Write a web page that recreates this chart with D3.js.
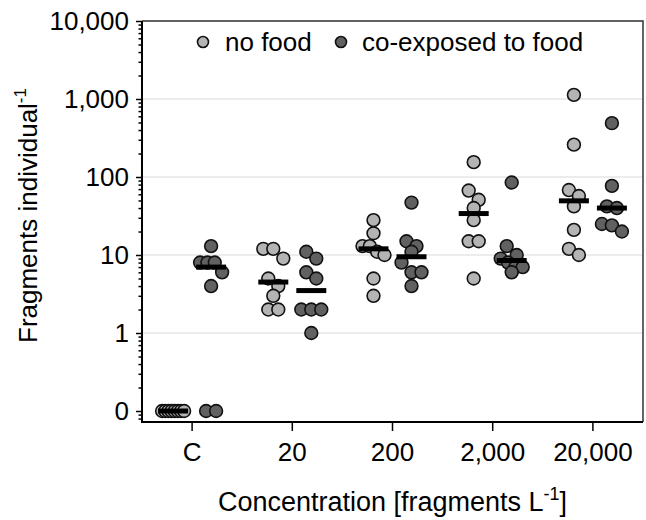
<!DOCTYPE html>
<html>
<head>
<meta charset="utf-8">
<script src="https://cdn.jsdelivr.net/npm/d3@7"></script>
<style>
    body { margin: 0; background: #fff; }
    svg { font-family: "Liberation Sans", Arial, sans-serif; }
</style>
</head>
<body>
<div class="mainBody"></div>
<script>
var concentrations = ["C", "20", "200", "2,000", "20,000"];
var noFood = [
    [0, 0, 0, 0, 0, 0, 0, 0],
    [12, 12, 9, 5, 4, 3, 2, 2],
    [28, 19, 13, 13, 11, 10, 5, 3],
    [155, 67, 51, 40, 28, 15, 15, 5],
    [1130, 260, 68, 57, 42, 21, 12, 10]
];
var withFood = [
    [13, 8, 8, 8, 6, 4, 0, 0],
    [11, 9, 6, 5, 2, 2, 2, 1],
    [47, 15, 13, 11, 8, 6, 6, 4],
    [85, 13, 10, 9, 8, 7, 7, 6],
    [490, 77, 42, 40, 25, 24, 20]
];
var yTickValues = [0.1, 1, 10, 100, 1000, 10000];
var seriesNames = ["no food", "co-exposed to food"];

var width = 646, height = 520;
var plot = { left: 142, right: 643, top: 21, bottom: 422 };
var colors = ["#b4b4b4", "#616161"];
var radius = 6.4;

var svg = d3.select("div.mainBody").append("svg")
    .attr("width", width)
    .attr("height", height);

var x = d3.scaleBand()
    .domain(concentrations)
    .range([plot.left, plot.right]);

var y = d3.scaleLog()
    .domain([0.0723, 10000])
    .range([plot.bottom, plot.top]);

// zero is drawn at the axis break, where the "0" label sits
function yv(v) {
    return y(v === 0 ? 0.1 : v);
}

function generateGrid() {
    svg.append("g")
        .selectAll("line")
        .data(yTickValues.filter(function(d) { return d >= 1; }))
        .enter().append("line")
        .attr("x1", plot.left)
        .attr("x2", plot.right)
        .attr("y1", function(d) { return y(d); })
        .attr("y2", function(d) { return y(d); })
        .attr("stroke", "#d9d9d9")
        .attr("stroke-width", 1);
}

function generateAxes() {
    // frame on top and right
    svg.append("path")
        .attr("d", `M${plot.left},${plot.top}H${plot.right}V${plot.bottom}`)
        .attr("fill", "none")
        .attr("stroke", "#333")
        .attr("stroke-width", 1.5);

    let fmt = d3.format(",");
    let yAxis = svg.append("g")
        .attr("transform", `translate(${plot.left},0)`)
        .call(d3.axisLeft(y)
            .tickValues(yTickValues)
            .tickSize(6)
            .tickPadding(7)
            .tickFormat(function(d) { return d < 1 ? "0" : fmt(d); }));
    yAxis.select(".domain").remove();

    let minor = y.ticks().filter(function(d) {
        return yTickValues.indexOf(d) < 0;
    });
    svg.append("g")
        .attr("transform", `translate(${plot.left},0)`)
        .call(d3.axisLeft(y).tickValues(minor).tickSize(3.5).tickFormat(""))
        .select(".domain").remove();

    let xAxis = svg.append("g")
        .attr("transform", `translate(0,${plot.bottom})`)
        .call(d3.axisBottom(x).tickSize(9).tickPadding(12).tickSizeOuter(0));
    xAxis.select(".domain").remove();

    svg.selectAll(".tick line")
        .attr("stroke", "#000")
        .attr("stroke-width", 1.5);
    svg.selectAll(".tick text")
        .attr("fill", "#000")
        .style("font-size", "26px")
        .style("font-family", "\"Liberation Sans\", Arial, sans-serif");

    svg.append("path")
        .attr("d", `M${plot.left},${plot.top}V${plot.bottom}H${plot.right}`)
        .attr("fill", "none")
        .attr("stroke", "#000")
        .attr("stroke-width", 2);

    let yTitle = svg.append("text")
        .attr("transform", `translate(37,${(plot.top + plot.bottom) / 2 - 6}) rotate(-90)`)
        .attr("text-anchor", "middle")
        .style("font-size", "26px")
        .text("Fragments individual");
    yTitle.append("tspan")
        .attr("dy", -11)
        .style("font-size", "17px")
        .text("-1");

    let xTitle = svg.append("text")
        .attr("x", (plot.left + plot.right) / 2)
        .attr("y", 511)
        .attr("text-anchor", "middle")
        .style("font-size", "27px")
        .text("Concentration [fragments L");
    xTitle.append("tspan")
        .attr("dy", -11)
        .style("font-size", "18px")
        .text("-1");
    xTitle.append("tspan")
        .attr("dy", 11)
        .text("]");
}

// points that sit close together vertically are spread side by side
function layoutGroup(values, cx) {
    let sorted = values.slice().sort(function(a, b) { return b - a; });
    let rows = [];
    sorted.forEach(function(v) {
        let py = yv(v);
        let row = rows[rows.length - 1];
        if (row && py - row.start < 10) {
            row.items.push(v);
        } else {
            rows.push({ start: py, items: [v] });
        }
    });
    let out = [];
    rows.forEach(function(row) {
        let n = row.items.length;
        let step = n > 1 ? Math.min(10, 22 / (n - 1)) : 0;
        row.items.forEach(function(v, i) {
            out.push({ x: cx + (i - (n - 1) / 2) * step, y: yv(v) });
        });
    });
    return out;
}

function generatePoints() {
    let series = [noFood, withFood];
    let offsets = [-19, 19];
    series.forEach(function(groups, s) {
        groups.forEach(function(values, i) {
            let cx = x(concentrations[i]) + x.bandwidth() / 2 + offsets[s];
            svg.append("g")
                .selectAll("circle")
                .data(layoutGroup(values, cx))
                .enter().append("circle")
                .attr("cx", function(d) { return d.x; })
                .attr("cy", function(d) { return d.y; })
                .attr("r", radius)
                .attr("fill", colors[s])
                .attr("stroke", "#111")
                .attr("stroke-width", 1.6);
        });
    });
    // median bars on top
    series.forEach(function(groups, s) {
        svg.append("g")
            .selectAll("line")
            .data(groups)
            .enter().append("line")
            .attr("x1", function(d, i) { return x(concentrations[i]) + x.bandwidth() / 2 + offsets[s] - 15; })
            .attr("x2", function(d, i) { return x(concentrations[i]) + x.bandwidth() / 2 + offsets[s] + 15; })
            .attr("y1", function(d) { return yv(d3.median(d)); })
            .attr("y2", function(d) { return yv(d3.median(d)); })
            .attr("stroke", "#000")
            .attr("stroke-width", 5);
    });
}

function generateLegend() {
    let items = [
        { name: seriesNames[0], cx: 203, tx: 225 },
        { name: seriesNames[1], cx: 341, tx: 362 }
    ];
    let legend = svg.append("g")
        .selectAll("g")
        .data(items)
        .enter().append("g");
    legend.append("circle")
        .attr("cx", function(d) { return d.cx; })
        .attr("cy", 42)
        .attr("r", 5.5)
        .attr("fill", function(d, i) { return colors[i]; })
        .attr("stroke", "#111")
        .attr("stroke-width", 1.6);
    legend.append("text")
        .attr("x", function(d) { return d.tx; })
        .attr("y", 51)
        .style("font-size", "26px")
        .text(function(d) { return d.name; });
}

generateGrid();
generateAxes();
generatePoints();
generateLegend();
</script>
</body>
</html>
